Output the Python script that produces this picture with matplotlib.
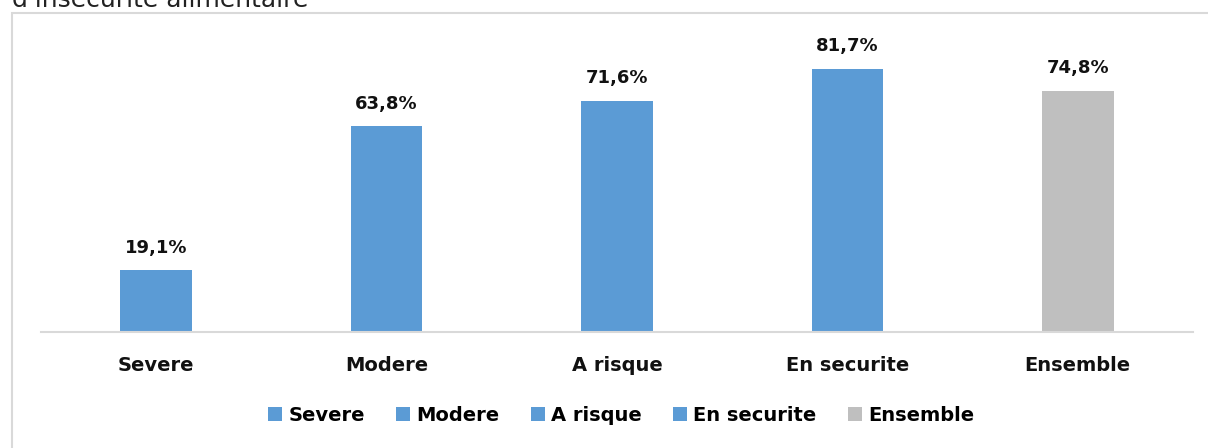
import matplotlib
matplotlib.use("Agg")
import matplotlib.pyplot as plt
from matplotlib.patches import Rectangle, Patch

categories = ["Severe", "Modere", "A risque", "En securite", "Ensemble"]
values = [19.1, 63.8, 71.6, 81.7, 74.8]
labels = ["19,1%", "63,8%", "71,6%", "81,7%", "74,8%"]
colors = ["#5B9BD5", "#5B9BD5", "#5B9BD5", "#5B9BD5", "#BFBFBF"]
title_text = "d'insecurite alimentaire"

W, H = 1208, 448
fig = plt.figure(figsize=(W / 100, H / 100), dpi=100)
plt.rcParams['font.family'] = ['DejaVu Sans']

# outer chart frame
fig.patches.append(Rectangle((12 / W, -0.1), 1.2, (H - 13) / H + 0.1,
                             transform=fig.transFigure, fill=False,
                             edgecolor="#D9D9D9", linewidth=1.5))
fig.text(12 / W, 1 - 7 / H, title_text, fontsize=18, color="#222222",
         ha="left", va="baseline")

left, right = 41, 1193
base, top = 332, 42
ax = fig.add_axes([left / W, 1 - base / H, (right - left) / W, (base - top) / H])
x = list(range(len(categories)))
bars = ax.bar(x, values, width=0.31, color=colors)
ax.set_xlim(-0.5, len(categories) - 0.5)
ax.set_ylim(0, 90)
for xi, v, lab in zip(x, values, labels):
    ax.annotate(lab, (xi, v), xytext=(0, 10), textcoords="offset points",
                ha="center", va="bottom", fontsize=13, fontweight="bold",
                color="#111111")
for s in ["top", "right", "left"]:
    ax.spines[s].set_visible(False)
ax.spines["bottom"].set_color("#D9D9D9")
ax.spines["bottom"].set_linewidth(1.5)
ax.set_yticks([])
ax.set_xticks(x)
ax.set_xticklabels(categories, fontsize=14, fontweight="bold", color="#111111")
ax.tick_params(axis="x", length=0, pad=17)

handles = [Patch(facecolor=c, edgecolor="none") for c in colors]
fig.legend(handles, categories, loc="center", bbox_to_anchor=(621 / W, 1 - 415 / H),
           ncol=5, frameon=False, prop={"size": 14, "weight": "bold"},
           handlelength=0.75, handleheight=0.75, handletextpad=0.3, columnspacing=1.6)

fig.savefig("out.png", dpi=100)
